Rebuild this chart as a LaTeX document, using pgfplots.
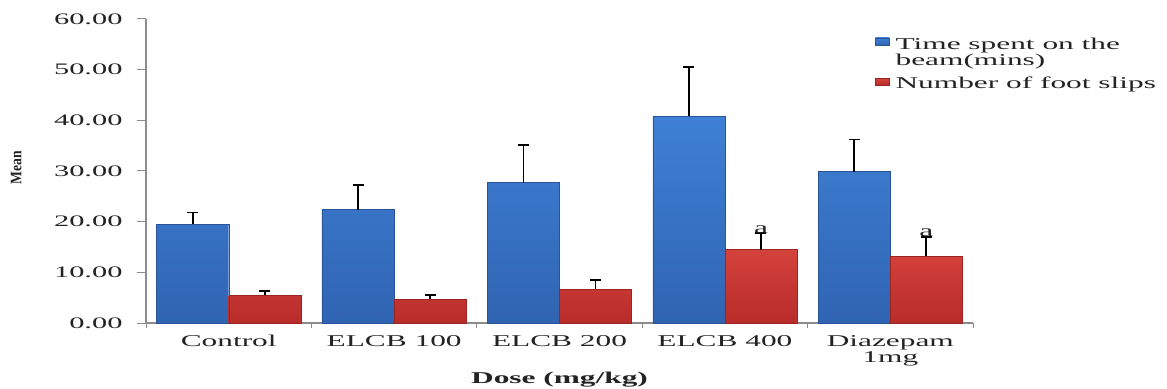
\documentclass[border=0pt]{standalone}
\usepackage{graphicx}
\usepackage{pgfplots}
\pgfplotsset{compat=1.18}
\usepackage{fontspec}
\setmainfont{Liberation Serif}[FakeStretch=1.9]
\definecolor{bluetop}{RGB}{62,128,214}
\definecolor{bluebot}{RGB}{48,100,178}
\definecolor{redtop}{RGB}{212,66,60}
\definecolor{redbot}{RGB}{184,44,42}
\definecolor{axgray}{RGB}{140,140,140}
\definecolor{txt}{RGB}{35,35,35}
\pgfplotsset{
  bluelegend/.style={legend image code/.code={\path[##1] (0bp,7.5bp) rectangle (14bp,14.5bp);}},
  redlegend/.style={legend image code/.code={\path[##1] (0bp,-2bp) rectangle (14bp,5bp);}},
}
\begin{document}
\begin{tikzpicture}
\path[use as bounding box] (0,0) rectangle (1167bp,389bp);
\begin{axis}[
  at={(146bp,66bp)}, anchor=south west,
  width=827bp, height=304bp, scale only axis, clip=false,
  xmin=-0.5, xmax=4.5, ymin=0, ymax=60,
  axis x line*=bottom, axis y line*=left,
  axis line style={axgray, line width=1.1bp},
  xtick={0,1,2,3,4},
  xticklabels={Control, ELCB 100, ELCB 200, ELCB 400, {Diazepam\\1mg}},
  x tick label style={align=center, font=\fontsize{16.5bp}{16bp}\selectfont, text=txt, anchor=north},
  minor xtick={-0.5,0.5,1.5,2.5,3.5,4.5},
  major x tick style={draw=none},
  minor x tick style={axgray, line width=1bp},
  ytick={0,10,20,30,40,50,60},
  major y tick style={axgray, line width=1bp},
  tick align=outside, major tick length=9bp, minor tick length=5bp,
  yticklabel style={/pgf/number format/fixed, /pgf/number format/fixed zerofill,
    /pgf/number format/precision=2, /pgf/number format/assume math mode=true,
    font=\fontsize{16bp}{16bp}\selectfont, text=txt, xshift=-11bp},
  xlabel={\bfseries Dose (mg/kg)},
  xlabel style={at={(axis description cs:0.5,-0.2)}, anchor=base, font=\fontsize{16.5bp}{16bp}\selectfont, text=txt},
  legend style={at={(axis description cs:0.8815,0.945)}, anchor=north west, draw=none, fill=none,
    font=\fontsize{16.5bp}{16bp}\selectfont, text=txt, cells={anchor=west, align=left},
    row sep=6bp, column sep=4bp, inner sep=0bp},
]
\addplot[ybar, bar width=0.436, bar shift=-0.218, draw=bluebot!85!black, line width=0.4bp,
  top color=bluetop, bottom color=bluebot, bluelegend]
  coordinates {(0,19.5) (1,22.4) (2,27.7) (3,40.8) (4,29.9)};
\addlegendentry{Time spent on the\\beam(mins)}
\addplot[ybar, bar width=0.436, bar shift=0.218, draw=redbot!85!black, line width=0.4bp,
  top color=redtop, bottom color=redbot, redlegend]
  coordinates {(0,5.45) (1,4.7) (2,6.65) (3,14.5) (4,13.2)};
\addlegendentry{Number of foot slips}
\addplot[forget plot, draw=none, mark=none,
  error bars/.cd, y dir=plus, y explicit,
  error bar style={draw=black, line width=1.8bp},
  error mark options={rotate=90, draw=black, line width=1.8bp, mark size=5.5bp}]
  coordinates {(-0.218,19.5) +- (0,2.3) (0.782,22.4) +- (0,4.8) (1.782,27.7) +- (0,7.4)
               (2.782,40.8) +- (0,9.8) (3.782,29.9) +- (0,6.3)};
\addplot[forget plot, draw=none, mark=none,
  error bars/.cd, y dir=plus, y explicit,
  error bar style={draw=black, line width=1.8bp},
  error mark options={rotate=90, draw=black, line width=1.8bp, mark size=5.5bp}]
  coordinates {(0.218,5.45) +- (0,0.85) (1.218,4.7) +- (0,0.8) (2.218,6.65) +- (0,1.85)
               (3.218,14.5) +- (0,3.2) (4.218,13.2) +- (0,3.8)};
\node[font=\fontsize{16.5bp}{16bp}\selectfont, text=txt, anchor=base, inner sep=0pt] at (axis cs:3.218,17.6) {a};
\node[font=\fontsize{16.5bp}{16bp}\selectfont, text=txt, anchor=base, inner sep=0pt] at (axis cs:4.218,17.1) {a};
\node[rotate=90, anchor=center, inner sep=0pt, text=txt, font=\fontsize{16bp}{16bp}\selectfont]
  at (axis description cs:-0.157,0.51) {\scalebox{0.45}[1]{\bfseries Mean}};
\end{axis}
\end{tikzpicture}
\end{document}
